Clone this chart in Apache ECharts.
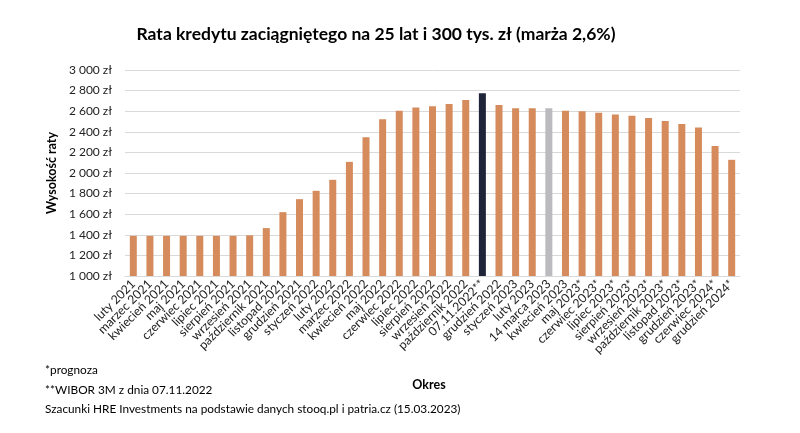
<!DOCTYPE html>
<html>
<head>
<meta charset="utf-8">
<script src="https://cdn.jsdelivr.net/npm/echarts@6/dist/echarts.min.js"></script>
<style>html,body{margin:0;padding:0;background:#fff}#c{width:800px;height:433px}</style>
</head>
<body>
<div id="c"></div>
<script>
const categories = ["luty 2021","marzec 2021","kwiecień 2021","maj 2021","czerwiec 2021","lipiec 2021","sierpień 2021","wrzesień 2021","październik 2021","listopad 2021","grudzień 2021","styczeń 2022","luty 2022","marzec 2022","kwiecień 2022","maj 2022","czerwiec 2022","lipiec 2022","sierpień 2022","wrzesień 2022","październik 2022","07.11.2022**","grudzień 2022","styczeń 2023","luty 2023","14 marca 2023","kwiecień 2023","maj 2023*","czerwiec 2023*","lipiec 2023*","sierpień 2023*","wrzesień 2023*","październik 2023*","listopad 2023*","grudzień 2023*","czerwiec 2024*","grudzień 2024*"];
const values = [1390,1390,1390,1390,1390,1390,1390,1395,1465,1620,1746,1827,1934,2108,2348,2522,2605,2635,2648,2670,2709,2774,2661,2629,2629,2629,2605,2599,2586,2567,2557,2535,2506,2476,2441,2263,2128];
const highlightDark = "07.11.2022**";
const highlightGrey = "14 marca 2023";
const yTicks = {min:1000, max:3000, interval:200};
const titleText = "Rata kredytu zaciągniętego na 25 lat i 300 tys. zł (marża 2,6%)";
const notes = ["*prognoza","**WIBOR 3M z dnia 07.11.2022","Szacunki HRE Investments na podstawie danych stooq.pl i patria.cz (15.03.2023)"];

const FONT = "Lato, 'Open Sans', sans-serif";
const chart = echarts.init(document.getElementById('c'), null, {renderer:'canvas'});
const data = values.map((v,i)=>{
  let color = '#D58B5C';
  if (categories[i]===highlightDark) color = '#1E2538';
  if (categories[i]===highlightGrey) color = '#BABABF';
  return {value:v, itemStyle:{color}};
});
function fmt(v){ return String(v).replace(/\B(?=(\d{3})+(?!\d))/g,' ') + ' zł'; }
chart.setOption({
  animation:false,
  textStyle:{fontFamily:FONT},
  title:[
    {text:titleText, left:371, top:20, textAlign:'center', textStyle:{fontSize:17.5, fontWeight:'bold', color:'#000', fontFamily:FONT}},
    {text:notes[0], left:40, top:359, textStyle:{fontSize:11.8, fontWeight:'normal', color:'#000', fontFamily:FONT}},
    {text:notes[1], left:40, top:379, textStyle:{fontSize:11.8, fontWeight:'normal', color:'#000', fontFamily:FONT}},
    {text:notes[2], left:40, top:398, textStyle:{fontSize:11.8, fontWeight:'normal', color:'#000', fontFamily:FONT}},
    {text:'Okres', left:424, top:373, textAlign:'center', textStyle:{fontSize:12.5, fontWeight:'bold', color:'#000', fontFamily:FONT}}
  ],
  grid:{left:125, right:60, top:70, bottom:157},
  xAxis:{
    type:'category', data:categories,
    axisTick:{show:false},
    axisLine:{lineStyle:{color:'#d9d9d9'}},
    axisLabel:{interval:0, rotate:45, fontSize:12.3, color:'#222', margin:6, fontFamily:FONT}
  },
  yAxis:{
    type:'value', min:yTicks.min, max:yTicks.max, interval:yTicks.interval,
    name:'Wysokość raty', nameLocation:'middle', nameGap:64, nameRotate:90,
    nameTextStyle:{fontSize:12.5, fontWeight:'bold', color:'#000', fontFamily:FONT},
    axisLine:{show:false}, axisTick:{show:false},
    splitLine:{lineStyle:{color:'#d9d9d9'}},
    axisLabel:{formatter:fmt, fontSize:12, color:'#222', margin:13, fontFamily:FONT}
  },
  series:[{type:'bar', data, barWidth:7}]
});
</script>
</body>
</html>
